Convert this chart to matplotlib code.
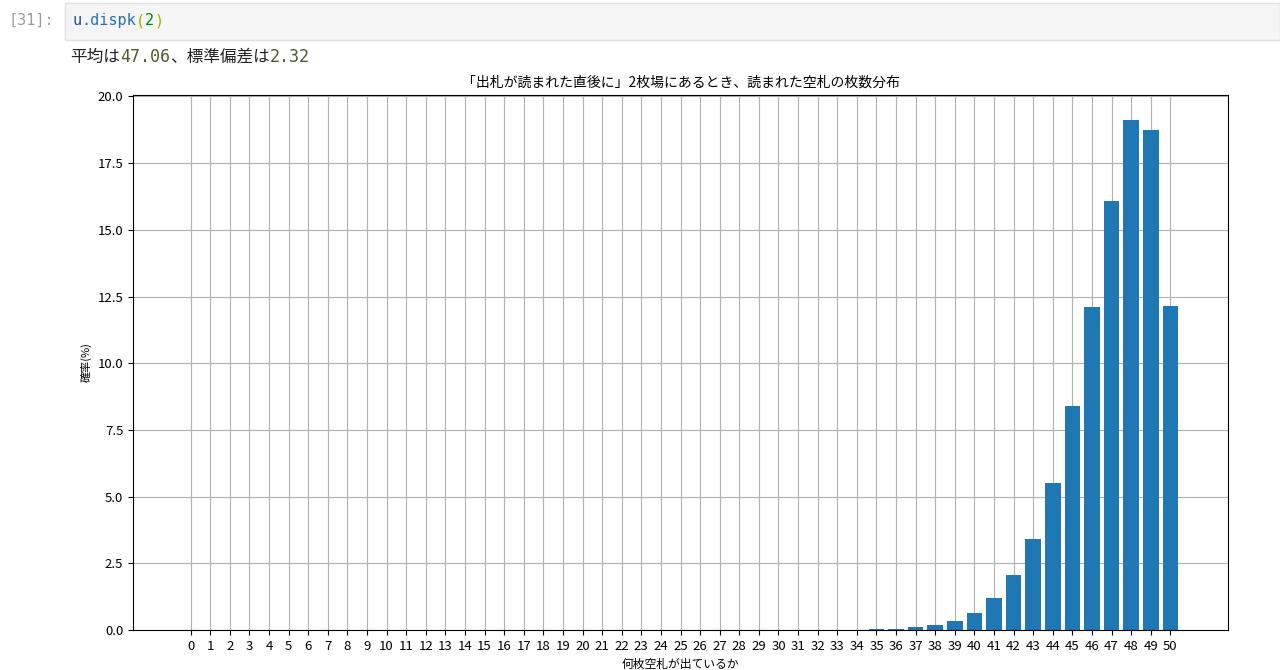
import matplotlib
matplotlib.use('Agg')
import matplotlib.pyplot as plt
from matplotlib.patches import Rectangle

plt.rcParams['font.family'] = ['Noto Sans CJK JP', 'DejaVu Sans']

# 空札の枚数 (0〜50) と確率(%)
counts = list(range(51))
probs = [0.0] * 35 + [0.02, 0.05, 0.1, 0.2, 0.35, 0.65, 1.2, 2.05, 3.4, 5.5,
                      8.4, 12.1, 16.1, 19.1, 18.75, 12.15]
mean_val = '47.06'
std_val = '2.32'

fig = plt.figure(figsize=(12.8, 6.7), dpi=100)
renderer = fig.canvas.get_renderer()


def put_run(x_px, y_px, parts, size):
    ''' 色違いの文字列をベースラインを揃えて横に並べる '''
    x = x_px
    for s, c, f in parts:
        t = fig.text(x / 1280, 1 - y_px / 670, s, color=c, fontsize=size,
                     family=f, va='baseline')
        x += t.get_window_extent(renderer).width


# ノートブックのセル部分
fig.patches.append(Rectangle((65 / 1280, 1 - 40 / 670), 1215 / 1280, 37 / 670,
                             transform=fig.transFigure, facecolor='#f5f5f5',
                             edgecolor='#e0e0e0', lw=1))
mono = 'DejaVu Sans Mono'
jp = 'Noto Sans CJK JP'
put_run(8, 25, [('[31]:', '#9e9e9e', mono)], 11)
put_run(72, 25, [('u', '#1f4e8c', mono), ('.dispk', '#2a6fb0', mono),
                 ('(', '#a8a800', mono), ('2', '#008800', mono),
                 (')', '#a8a800', mono)], 11)

put_run(70, 62, [('平均は', '#222222', jp), (mean_val, '#4d5a2e', mono),
                 ('、標準偏差は', '#222222', jp), (std_val, '#4d5a2e', mono)], 12)

ax = fig.add_axes([133 / 1280, 1 - 630 / 670, 1095 / 1280, 535 / 670])
ax.bar(counts, probs, color='#1f77b4', zorder=2)
ax.set_xticks(counts)
ax.tick_params(labelsize=9.5)
ax.grid(True, color='#b0b0b0', lw=0.8, zorder=0)
ax.set_axisbelow(True)
ax.set_title('「出札が読まれた直後に」2枚場にあるとき、読まれた空札の枚数分布', fontsize=10)
ax.set_ylabel('確率(%)', fontsize=8)
ax.set_xlabel('何枚空札が出ているか', fontsize=8.5)

fig.savefig('out.png', dpi=100)
